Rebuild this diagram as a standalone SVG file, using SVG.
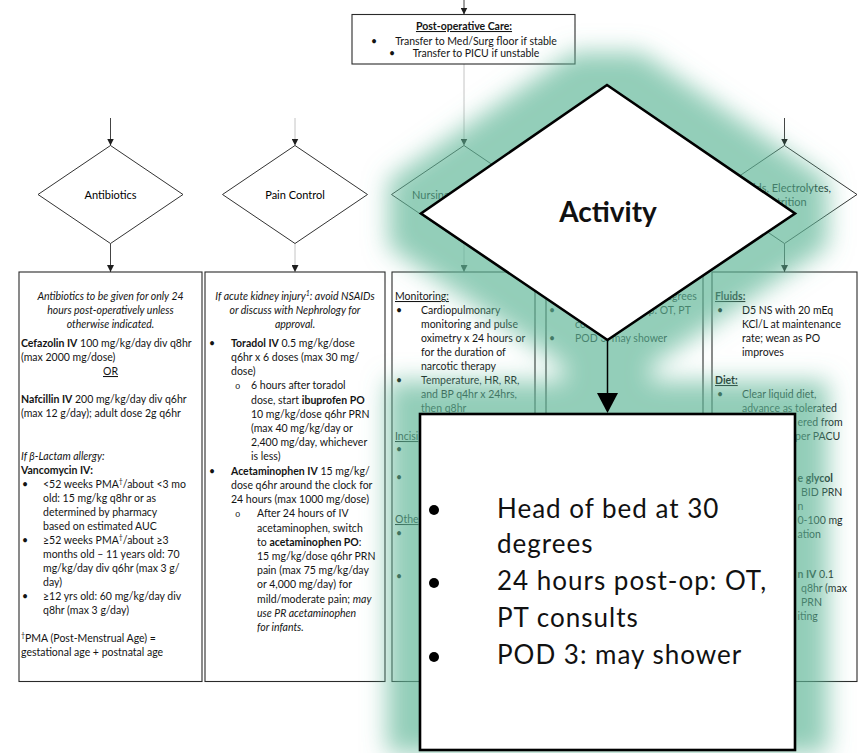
<svg xmlns="http://www.w3.org/2000/svg" width="866" height="753" viewBox="0 0 866 753">
<defs>
<style>
text{font-family:Lato,"Liberation Sans",sans-serif;font-size:10.5px;fill:#141414}
.c{text-anchor:middle}
.i{font-style:italic}
.b{font-weight:bold}
.u{text-decoration:underline}
.sup{font-size:7px}
.sub{font-family:"Liberation Mono",monospace;font-size:9px}
.lbl{font-size:11px;fill:#000}
.frame{fill:#fff;stroke:#2a2a2a;stroke-width:1.1}
.dia{fill:#fff;stroke:#333;stroke-width:1}
.dk{stroke:#444;stroke-width:1;fill:none}
.lt{stroke:#c4c4c4;stroke-width:1;fill:none}
.big{font-size:26px;letter-spacing:1px;fill:#111}
.head{font-size:28px;font-weight:bold;fill:#111}
.ov{fill:#fff;stroke:#000;stroke-width:2.6}
</style>
<marker id="ah" viewBox="0 0 7 7" refX="7" refY="3.5" markerWidth="7" markerHeight="7" orient="auto" markerUnits="userSpaceOnUse">
<path d="M0,0 L7,3.5 L0,7 Z" fill="#1e1e1e"/>
</marker>
<filter id="glow" filterUnits="userSpaceOnUse" x="0" y="0" width="866" height="753">
<feMorphology in="SourceAlpha" operator="dilate" radius="33" result="d"/>
<feGaussianBlur in="d" stdDeviation="12" result="b"/>
<feFlood flood-color="#5fb697" flood-opacity="0.68"/>
<feComposite in2="b" operator="in"/>
</filter>
</defs>

<rect width="866" height="753" fill="#fff"/>

<!-- connectors -->
<g id="connectors">
<line class="dk" x1="464" y1="0" x2="464" y2="14.5" marker-end="url(#ah)"/>
<line class="lt" x1="464" y1="64" x2="464" y2="145.5" marker-end="url(#ah)"/>
<line class="dk" x1="110.5" y1="118" x2="110.5" y2="145.5" marker-end="url(#ah)"/>
<line class="dk" x1="110.5" y1="243.5" x2="110.5" y2="272" marker-end="url(#ah)"/>
<line class="lt" x1="295" y1="118" x2="295" y2="145.5" marker-end="url(#ah)"/>
<line class="lt" x1="295" y1="243.5" x2="295" y2="272" marker-end="url(#ah)"/>
<line class="lt" x1="464" y1="243.5" x2="464" y2="272" marker-end="url(#ah)"/>
<line class="dk" x1="784.5" y1="118" x2="784.5" y2="145.5" marker-end="url(#ah)"/>
<line class="dk" x1="784.5" y1="243.5" x2="784.5" y2="272" marker-end="url(#ah)"/>
</g>

<!-- post-operative care -->
<g id="postop">
<rect class="frame" x="352" y="14.5" width="223" height="49.5"/>
<text class="c b u" x="464" y="30">Post-operative Care:</text>
<text x="371" y="44.5">•</text>
<text class="c" x="476" y="44.5">Transfer to Med/Surg floor if stable</text>
<text x="389" y="56.5">•</text>
<text class="c" x="476" y="56.5">Transfer to PICU if unstable</text>
</g>

<!-- decision diamonds -->
<g id="d-antibiotics">
<polygon class="dia" points="110.5,145.5 183,194.5 110.5,243.5 38,194.5"/>
<text class="c lbl" x="110.5" y="198.5">Antibiotics</text>
</g>
<g id="d-pain">
<polygon class="dia" points="295,145.5 367.5,194.5 295,243.5 222.5,194.5"/>
<text class="c lbl" x="295" y="198.5">Pain Control</text>
</g>
<g id="d-nursing">
<polygon class="dia" points="464,145.5 536.5,194.5 464,243.5 391.5,194.5"/>
<text class="lbl" x="412" y="199">Nursing</text>
</g>
<g id="d-fluids">
<polygon class="dia" points="784.5,145.5 857,194.5 784.5,243.5 712,194.5"/>
<text class="c lbl" x="784.5" y="192">Fluids, Electrolytes,</text>
<text class="c lbl" x="784.5" y="205.5">Nutrition</text>
</g>

<!-- antibiotics orders -->
<g id="b-antibiotics">
<rect class="frame" x="19" y="272" width="183" height="409.5"/>
<text class="c i" x="110.5" y="300">Antibiotics to be given for only 24</text>
<text class="c i" x="110.5" y="314">hours post-operatively unless</text>
<text class="c i" x="110.5" y="328">otherwise indicated.</text>
<text x="21" y="347"><tspan class="b">Cefazolin IV</tspan> 100 mg/kg/day div q8hr</text>
<text x="21" y="361">(max 2000 mg/dose)</text>
<text class="c u" x="110.5" y="375">OR</text>
<text x="21" y="403"><tspan class="b">Nafcillin IV</tspan> 200 mg/kg/day div q6hr</text>
<text x="21" y="417">(max 12 g/day); adult dose 2g q6hr</text>
<text class="i" x="21" y="460">If β-Lactam allergy:</text>
<text class="b" x="21" y="474">Vancomycin IV:</text>
<text x="22" y="488">•</text>
<text x="43" y="488">&lt;52 weeks PMA<tspan class="sup" baseline-shift="super">†</tspan>/about &lt;3 mo</text>
<text x="43" y="502">old: 15 mg/kg q8hr or as</text>
<text x="43" y="516">determined by pharmacy</text>
<text x="43" y="530">based on estimated AUC</text>
<text x="22" y="544">•</text>
<text x="43" y="544">≥52 weeks PMA<tspan class="sup" baseline-shift="super">†</tspan>/about ≥3</text>
<text x="43" y="558">months old – 11 years old: 70</text>
<text x="43" y="572">mg/kg/day div q6hr (max 3 g/</text>
<text x="43" y="586">day)</text>
<text x="22" y="600">•</text>
<text x="43" y="600">≥12 yrs old: 60 mg/kg/day div</text>
<text x="43" y="614">q8hr (max 3 g/day)</text>
<text x="21" y="642"><tspan class="sup" baseline-shift="super">†</tspan>PMA (Post-Menstrual Age) =</text>
<text x="21" y="656">gestational age + postnatal age</text>
</g>

<!-- pain control orders -->
<g id="b-pain">
<rect class="frame" x="205" y="272" width="180" height="409.5"/>
<text class="c i" x="295" y="300">If acute kidney injury<tspan class="sup" baseline-shift="super">1</tspan>: avoid NSAIDs</text>
<text class="c i" x="295" y="314">or discuss with Nephrology for</text>
<text class="c i" x="295" y="328">approval.</text>
<text x="209" y="347">•</text>
<text x="231" y="347"><tspan class="b">Toradol IV</tspan> 0.5 mg/kg/dose</text>
<text x="231" y="361">q6hr x 6 doses (max 30 mg/</text>
<text x="231" y="375">dose)</text>
<text class="sub" x="235" y="389">o</text>
<text x="251" y="389">6 hours after toradol</text>
<text x="251" y="403.5">dose, start <tspan class="b">ibuprofen PO</tspan></text>
<text x="251" y="417.5">10 mg/kg/dose q6hr PRN</text>
<text x="251" y="432">(max 40 mg/kg/day or</text>
<text x="251" y="446">2,400 mg/day, whichever</text>
<text x="251" y="460">is less)</text>
<text x="209" y="474.5">•</text>
<text x="231" y="474.5"><tspan class="b">Acetaminophen IV</tspan> 15 mg/kg/</text>
<text x="231" y="488.5">dose q6hr around the clock for</text>
<text x="231" y="503">24 hours (max 1000 mg/dose)</text>
<text class="sub" x="235" y="517">o</text>
<text x="257" y="517">After 24 hours of IV</text>
<text x="257" y="531.5">acetaminophen, switch</text>
<text x="257" y="545.5">to <tspan class="b">acetaminophen PO</tspan>:</text>
<text x="257" y="560">15 mg/kg/dose q6hr PRN</text>
<text x="257" y="574">pain (max 75 mg/kg/day</text>
<text x="257" y="588">or 4,000 mg/day) for</text>
<text x="257" y="602.5">mild/moderate pain; <tspan class="i">may</tspan></text>
<text class="i" x="257" y="616.5">use PR acetaminophen</text>
<text class="i" x="257" y="631">for infants.</text>
</g>

<!-- nursing orders -->
<g id="b-nursing">
<rect class="frame" x="392" y="272" width="143" height="409.5"/>
<text class="u" x="395" y="300">Monitoring:</text>
<text x="396" y="314">•</text>
<text x="421" y="314">Cardiopulmonary</text>
<text x="421" y="328">monitoring and pulse</text>
<text x="421" y="342">oximetry x 24 hours or</text>
<text x="421" y="356">for the duration of</text>
<text x="421" y="370">narcotic therapy</text>
<text x="396" y="384">•</text>
<text x="421" y="384">Temperature, HR, RR,</text>
<text x="421" y="398">and BP q4hr x 24hrs,</text>
<text x="421" y="412">then q8hr</text>
<text class="u" x="395" y="440">Incisi</text>
<text x="396" y="453">•</text>
<text x="396" y="481">•</text>
<text class="u" x="395" y="523">Othe</text>
<text x="396" y="537">•</text>
<text x="396" y="580">•</text>
</g>

<!-- activity orders -->
<g id="b-activity">
<rect class="frame" x="546" y="272" width="157" height="409.5"/>
<text x="549" y="300">•</text>
<text x="575" y="300">Head of bed at 30 degrees</text>
<text x="549" y="314">•</text>
<text x="575" y="314">24 hours post-op: OT, PT</text>
<text x="575" y="328">consults</text>
<text x="549" y="342">•</text>
<text x="575" y="342">POD 3: may shower</text>
</g>

<!-- fluids, electrolytes, nutrition orders -->
<g id="b-fluids">
<rect class="frame" x="712" y="272" width="145" height="409.5"/>
<text class="b u" x="715" y="300">Fluids:</text>
<text x="717" y="314">•</text>
<text x="742" y="314">D5 NS with 20 mEq</text>
<text x="742" y="328">KCl/L at maintenance</text>
<text x="742" y="342">rate; wean as PO</text>
<text x="742" y="356">improves</text>
<text class="b u" x="715" y="384">Diet:</text>
<text x="717" y="398">•</text>
<text x="742" y="398">Clear liquid diet,</text>
<text x="742" y="412">advance as tolerated</text>
<text x="797.5" y="426">ered from</text>
<text x="795" y="440">per PACU</text>
<text class="b" x="797.5" y="482">e glycol</text>
<text x="801" y="496">BID PRN</text>
<text x="797.5" y="510">n</text>
<text x="797.5" y="524">0-100 mg</text>
<text x="797.5" y="538">ation</text>
<text x="797.5" y="578"><tspan class="b">n IV</tspan> 0.1</text>
<text x="801" y="592">q8hr (max</text>
<text x="801" y="606">PRN</text>
<text x="797.5" y="620">iting</text>
</g>

<!-- activity callout -->
<g id="activity-glow" filter="url(#glow)">
<polygon points="607,85 795,213.5 607.5,340 421,213.5"/>
<line x1="607.5" y1="340" x2="607.5" y2="413" stroke="#000" stroke-width="4"/>
<polygon points="597,393 618,393 607.5,413"/>
<rect x="420" y="414" width="375" height="336"/>
</g>
<g id="activity-decision">
<polygon class="ov" points="607,85 795,213.5 607.5,340 421,213.5"/>
<text class="head c" x="608" y="222">Activity</text>
</g>
<g id="activity-link">
<line x1="607.5" y1="340" x2="607.5" y2="394" stroke="#000" stroke-width="1.5"/>
<polygon points="597,393 618,393 607.5,413" fill="#000"/>
</g>
<g id="activity-box">
<rect class="ov" x="420" y="414" width="375" height="336"/>
<circle cx="434" cy="510" r="5"/>
<circle cx="434" cy="583" r="5"/>
<circle cx="434" cy="657" r="5"/>
<text class="big" x="497" y="518">Head of bed at 30</text>
<text class="big" x="497" y="553">degrees</text>
<text class="big" x="497" y="590">24 hours post-op: OT,</text>
<text class="big" x="497" y="627">PT consults</text>
<text class="big" x="497" y="664">POD 3: may shower</text>
</g>
</svg>
